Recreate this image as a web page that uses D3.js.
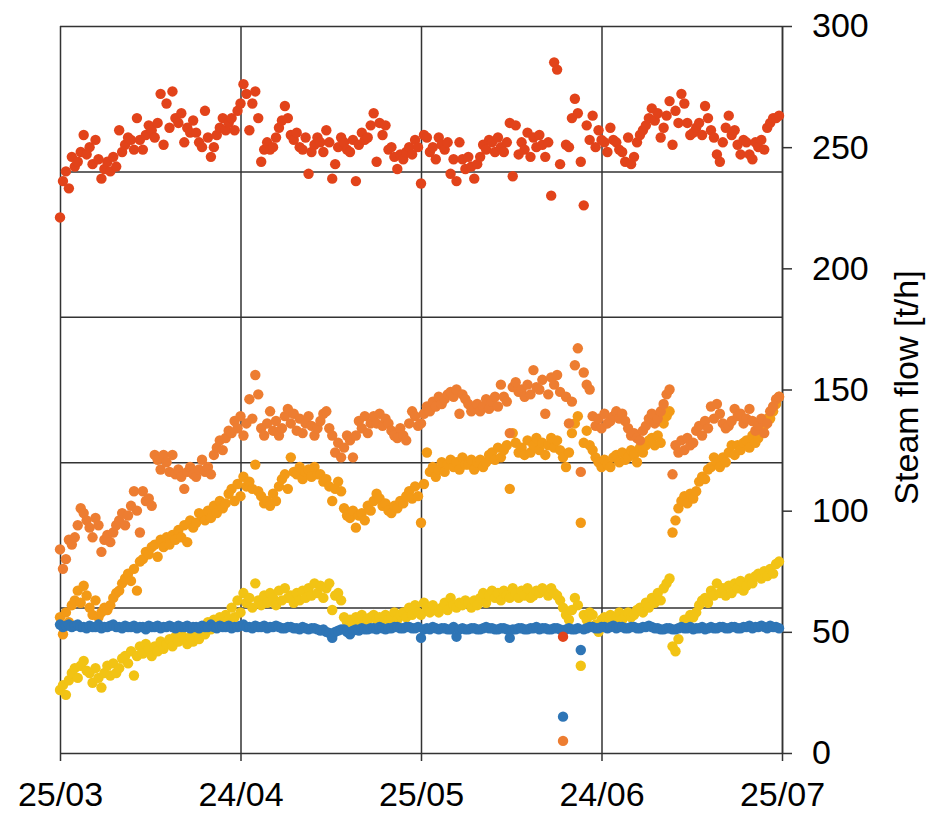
<!DOCTYPE html>
<html>
<head>
<meta charset="utf-8">
<script src="https://cdn.jsdelivr.net/npm/d3@7"></script>
<style>
  body { margin: 0; background: #fff; }
  text { font-family: "Liberation Sans", Arial, Helvetica, sans-serif; fill: #000; }
</style>
</head>
<body>
<script>
// 12-hourly readings, starting 25/03 00:00
const startDate = Date.UTC(2023, 2, 25);
const endDate = Date.UTC(2023, 6, 25);
const stepMs = 12 * 3600 * 1000;

const xTickLabels = ["25/03", "24/04", "25/05", "24/06", "25/07"];
const yTicks = [0, 50, 100, 150, 200, 250, 300];
const gridValues = [0, 60, 120, 180, 240, 300];
const yTitle = "Steam flow [t/h]";

const redFlow = [
  221,236, 240,233, 246,242, 244,248, 255,247, 250,243, 253,245, 237,241, 244,240, 246,242,
  257,248, 251,254, 253,249, 262,253, 249,255, 259,257, 254,260, 272,251, 268,258, 273,262,
  260,264, 252,258, 256,261, 256,252, 250,265, 254,246, 250,255, 258,262, 257,260, 262,257,
  265,268, 276,272, 257,268, 273,262, 244,249, 252,249, 250,254, 258,261, 267,262, 255,253,
  256,250, 249,254, 239,248, 251,254, 252,248, 257,252, 237,243, 250,254, 252,249, 248,253,
  236,251, 256,253, 254,259, 264,244, 260,255, 259,249, 250,246, 241,247, 245,248, 250,247,
  253,250, 235,255, 254,248, 250,245, 254,251, 249,252, 239,245, 236,252, 245,241, 246,242,
  237,243, 246,251, 249,253, 252,248, 254,250, 248,252, 260,238, 259,247, 252,249, 256,246,
  254,250, 255,251, 246,252, 230,285, 282,243, 48,251, 250,262, 270,264, 244,226, 259,253,
  263,250, 257,253, 252,248, 258,253, 252,249, 248,244, 254,243, 246,252, 255,257, 259,262,
  266,261, 264,254, 258,263, 269,251, 265,260, 272,268, 260,255, 256,258, 260,255, 267,262,
  257,254, 247,244, 252,258, 263,255, 257,251, 247,253, 252,247, 245,252, 250,253, 249,258,
  260,262, 262,263
];

const orangeFlow = [
  84,76, 80,88, 86,89, 94,101, 99,96, 93,89, 97,94, 83,88, 90,87, 91,94,
  96,99, 94,98, 102,108, 100,91, 108,104, 105,102, 123,121, 117,123, 120,116, 123,115,
  117,114, 109,116, 118,115, 114,117, 121,116, 118,115, 123,126, 129,125, 130,133, 132,137,
  134,139, 131,136, 146,138, 156,148, 134,131, 136,141, 133,137, 131,134, 139,142, 136,140,
  133,138, 132,136, 139,135, 131,134, 137,140, 141,134, 131,124, 128,122, 126,131, 129,122,
  131,137, 134,139, 132,136, 139,136, 140,135, 138,136, 133,131, 130,134, 131,129, 136,141,
  139,135, 136,140, 143,141, 145,143, 147,144, 146,148, 149,147, 150,140, 148,146, 144,141,
  142,144, 141,143, 146,142, 145,147, 143,152, 147,145, 132,151, 153,149, 150,147, 152,148,
  158,151, 150,154, 140,148, 155,152, 156,149, 5,147, 136,145, 160,167, 116,157, 152,150,
  139,135, 138,134, 140,136, 137,139, 141,138, 140,137, 134,131, 132,130, 129,133, 135,138,
  140,136, 138,141, 144,148, 150,115, 127,124, 129,125, 130,127, 128,133, 135,131, 137,134,
  143,138, 144,140, 136,134, 135,137, 142,139, 140,136, 138,142, 137,133, 135,138, 132,136,
  141,143, 146,147
];

const amberFlow = [
  56,49, 58,54, 61,63, 67,62, 69,65, 60,57, 63,56, 58,60, 59,61, 64,66,
  67,70, 72,74, 71,76, 67,79, 80,83, 82,85, 86,81, 88,85, 89,86, 90,88,
  92,89, 94,87, 96,93, 95,99, 98,96, 100,97, 102,99, 104,101, 103,107, 109,104,
  111,106, 114,110, 112,109, 119,108, 106,103, 104,102, 107,104, 110,113, 115,109, 122,116,
  115,118, 113,116, 117,114, 118,115, 115,112, 113,110, 104,109, 112,108, 101,98, 97,100,
  93,98, 99,96, 102,100, 104,107, 105,102, 103,100, 99,102, 101,104, 103,106, 108,105,
  110,106, 95,111, 124,116, 118,114, 117,120, 116,119, 121,118, 120,117, 122,119, 119,121,
  117,120, 121,118, 120,123, 124,121, 126,122, 125,127, 109,132, 128,124, 126,123, 129,124,
  127,130, 125,128, 123,127, 130,126, 129,125, 122,118, 124,132, 136,139, 95,128, 133,127,
  125,122, 120,118, 121,119, 118,122, 123,120, 124,121, 122,125, 123,120, 126,124, 127,129,
  130,127, 131,128, 136,139, 141,91, 96,101, 104,106, 103,107, 105,108, 112,114, 113,117,
  118,122, 120,118, 122,120, 124,127, 123,127, 125,128, 129,126, 131,128, 130,133, 135,138,
  138,141, 144,147
];

const yellowFlow = [
  26,28, 24,30, 33,35, 31,36, 38,34, 33,29, 35,31, 27,33, 36,32, 37,33,
  35,39, 40,37, 42,32, 40,44, 41,45, 43,40, 44,42, 46,43, 45,47, 44,48,
  46,49, 47,45, 48,46, 50,47, 52,49, 54,51, 55,53, 56,54, 57,55, 60,56,
  63,58, 66,62, 64,60, 70,63, 61,65, 62,66, 64,61, 67,63, 68,64, 65,62,
  66,63, 67,64, 68,65, 70,66, 69,64, 68,70, 59,65, 66,63, 56,54, 55,53,
  56,54, 57,54, 55,56, 57,55, 56,54, 57,55, 56,58, 55,57, 58,56, 60,57,
  61,58, 57,62, 60,58, 61,59, 58,60, 62,59, 64,61, 60,62, 61,63, 62,60,
  63,61, 64,66, 62,65, 67,64, 66,63, 67,65, 64,68, 66,64, 67,65, 68,64,
  65,67, 66,68, 67,65, 68,66, 65,63, 60,57, 55,59, 64,61, 36,57, 55,58,
  57,53, 50,55, 56,54, 57,55, 56,58, 55,57, 58,56, 57,59, 60,58, 62,60,
  64,62, 66,63, 68,70, 72,44, 42,47, 52,55, 54,57, 56,58, 61,63, 64,62,
  67,65, 70,66, 68,65, 69,66, 70,68, 71,67, 69,72, 70,73, 74,72, 75,73,
  76,74, 78,79
];

const blueFlow = [
  53,52, 52.5,53, 52,52.5, 53,52, 52,51.5, 52.5,52, 52,53, 51.5,52, 52,52.5, 53,52,
  52,51.5, 52.5,52, 52,52.5, 51.5,52, 52,51, 52.5,52, 52,52.5, 51.5,52, 52,52.5, 52,51.5,
  52.5,52, 52,52.5, 51.5,52, 52,51.5, 52.5,52, 52,53, 52,51.5, 52.5,52, 52,52.5, 51.5,52,
  52,52.5, 53,52, 52,51.5, 52.5,52, 52,52.5, 51.5,52, 52,52.5, 52,51.5, 51.5,52, 52,51.5,
  51.5,51, 52,51.5, 51,51.5, 51.5,51, 50.5,51, 50,49.5, 47.5,50, 50.5,51, 51,50, 49,50.5,
  51,50.5, 51.5,51, 51,51.5, 51.5,51, 52,51.5, 51,51.5, 51.5,52, 52,51.5, 51.5,52, 52,51.5,
  51.5,52, 47.5,51, 51.5,51, 52,51.5, 51,51.5, 51.5,51, 51,52, 48,51, 51.5,51, 51,51.5,
  51.5,51, 51,51.5, 52,51.5, 51.5,51, 51,51.5, 51.5,51, 47.5,51, 51,51.5, 51.5,51, 51,51.5,
  51.5,52, 51,51.5, 51.5,51, 51,51.5, 51.5,51, 15,51, 51.5,51, 51,51.5, 42.5,51, 51.5,52,
  52,51.5, 51.5,52, 52,51.5, 52,52.5, 51.5,52, 52,51.5, 51.5,52, 52,51.5, 51.5,52, 52,52.5,
  52,51.5, 51.5,51, 51,51.5, 51.5,51, 51,51.5, 52,51.5, 51.5,52, 51,51.5, 51.5,52, 51,51.5,
  52,51.5, 51.5,52, 52,51.5, 51.5,52, 52,51.5, 51.5,52, 52,52.5, 51.5,52, 52,52.5, 52,51.5,
  52.5,52, 52,51.5
];

// drawing order: last one ends up on top
const seriesValues = [yellowFlow, amberFlow, orangeFlow, blueFlow, redFlow];
const seriesColors = ["#f2c314", "#f39a16", "#ed7d31", "#2e75b6", "#e2431a"];

const width = 942, height = 813;
const plotLeft = 60, plotRight = 782, plotTop = 26, plotBottom = 753;

const svg = d3.select("body").append("svg")
  .attr("width", width)
  .attr("height", height);

const x = d3.scaleUtc().domain([startDate, endDate]).range([plotLeft, plotRight]);
const y = d3.scaleLinear().domain([0, 300]).range([plotBottom, plotTop]);

// ticks sit at even quarters of the range (Excel style major unit)
const xTickValues = xTickLabels.map((d, i) => new Date(startDate + i * (endDate - startDate) / (xTickLabels.length - 1)));

const gridColor = "#333";
const gridWidth = 1.5;

// horizontal grid (hidden primary axis, 5 divisions)
const hGrid = svg.append("g")
  .attr("transform", `translate(${plotLeft},0)`)
  .call(d3.axisLeft(y).tickValues(gridValues).tickSize(-(plotRight - plotLeft)).tickFormat(""));
hGrid.select(".domain").remove();
hGrid.selectAll("line").attr("stroke", gridColor).attr("stroke-width", gridWidth);

// vertical grid + date axis
const xAxis = svg.append("g")
  .attr("transform", `translate(0,${plotBottom})`)
  .call(d3.axisBottom(x)
    .tickValues(xTickValues)
    .tickSize(-(plotBottom - plotTop))
    .tickPadding(29)
    .tickFormat((d, i) => xTickLabels[i]));
xAxis.select(".domain").remove();
xAxis.selectAll("line").attr("y1", 8).attr("stroke", gridColor).attr("stroke-width", gridWidth);
xAxis.selectAll("text").attr("y", 29).style("font-size", "34px").attr("fill", "#000");

// right value axis
const yAxis = svg.append("g")
  .attr("transform", `translate(${plotRight},0)`)
  .call(d3.axisRight(y).tickValues(yTicks).tickSize(10).tickSizeOuter(0).tickPadding(20));
yAxis.select(".domain").attr("stroke", gridColor).attr("stroke-width", gridWidth);
yAxis.selectAll("line").attr("stroke", gridColor).attr("stroke-width", gridWidth);
yAxis.selectAll("text").style("font-size", "34px").attr("fill", "#000");

svg.append("text")
  .attr("transform", "translate(918,387.5) rotate(-90)")
  .attr("text-anchor", "middle")
  .style("font-size", "34px")
  .text(yTitle);

// points
seriesValues.forEach((values, k) => {
  svg.append("g")
    .attr("fill", seriesColors[k])
    .selectAll("circle")
    .data(values)
    .join("circle")
    .attr("cx", (d, i) => x(new Date(startDate + i * stepMs)))
    .attr("cy", d => y(d))
    .attr("r", 5.2);
});
</script>
</body>
</html>
